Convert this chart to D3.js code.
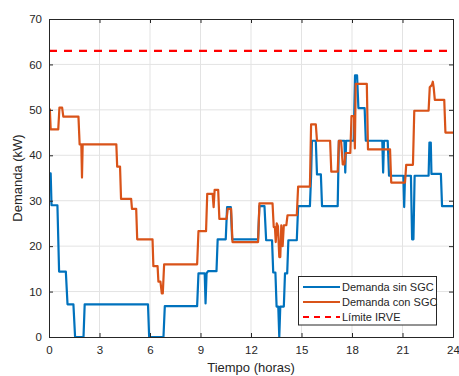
<!DOCTYPE html>
<html>
<head>
<meta charset="utf-8">
<script src="https://cdn.jsdelivr.net/npm/d3@7"></script>
<style>
  html, body { margin: 0; padding: 0; background: #fff; }
  svg { display: block; font-family: "Liberation Sans", Arial, Helvetica, sans-serif; }
</style>
</head>
<body>
<svg id="chart" width="459" height="376"></svg>
<script>
// ---- Data ----
const xTicks = [0, 3, 6, 9, 12, 15, 18, 21, 24];
const yTicks = [0, 10, 20, 30, 40, 50, 60, 70];
const seriesNames = ["Demanda sin SGC", "Demanda con SGC", "Límite IRVE"];
const limiteIRVE = 63;

const horaSin = [0, 0.1, 0.15, 0.5, 0.6, 1.0, 1.1, 1.45, 1.55, 2.05, 2.12, 5.88, 5.95, 6.8, 6.88, 8.8, 8.88, 9.25, 9.3, 9.36, 9.45, 9.95, 10.02, 10.5, 10.58, 10.8, 10.88, 12.42, 12.5, 12.8, 12.9, 13.25, 13.32, 13.45, 13.52, 13.62, 13.68, 13.74, 13.95, 14.02, 14.15, 14.22, 14.72, 14.8, 15.5, 15.57, 15.62, 15.85, 15.92, 16.15, 16.22, 17.15, 17.22, 17.55, 17.6, 17.65, 18.1, 18.18, 18.3, 18.38, 18.75, 18.82, 19.8, 19.85, 19.9, 20.12, 20.2, 21.05, 21.1, 21.15, 21.5, 21.57, 21.65, 21.72, 22.55, 22.6, 22.68, 22.72, 23.28, 23.35, 24];
const demandaSin = [36, 36, 29, 29, 14.4, 14.4, 7.2, 7.2, 0, 0, 7.2, 7.2, 0, 0, 6.8, 6.8, 14, 14, 7.4, 14, 14.5, 14.5, 21.5, 21.5, 28.6, 28.6, 21.5, 21.5, 28.8, 28.8, 21.3, 21.3, 14.2, 14.2, 6.7, 6.7, 0, 6.7, 6.7, 14, 14, 21.3, 21.3, 28.8, 28.8, 35.5, 43.2, 43.2, 35.8, 35.8, 28.8, 28.8, 43.2, 43.2, 36.2, 43.2, 43.2, 57.6, 57.6, 50.4, 50.4, 43.2, 43.2, 36.2, 43.2, 43.2, 35.5, 35.5, 28.6, 35.5, 35.5, 21.5, 21.5, 35.5, 35.5, 42.8, 42.8, 35.9, 35.9, 28.8, 28.8];

const horaCon = [0, 0.05, 0.1, 0.55, 0.62, 0.78, 0.85, 1.75, 1.82, 1.92, 1.96, 2.0, 4.0, 4.05, 4.22, 4.28, 4.88, 4.93, 5.18, 5.24, 6.15, 6.2, 6.45, 6.5, 6.62, 6.7, 6.76, 6.84, 8.8, 8.88, 9.33, 9.4, 9.72, 9.78, 9.84, 10.05, 10.12, 10.55, 10.62, 10.82, 10.9, 12.42, 12.5, 13.28, 13.35, 13.42, 13.47, 13.53, 13.6, 13.68, 13.74, 13.8, 13.88, 13.95, 14.1, 14.17, 14.72, 14.8, 15.5, 15.57, 15.85, 15.92, 16.7, 16.77, 17.15, 17.22, 17.35, 17.45, 17.55, 17.62, 17.9, 17.97, 18.12, 18.17, 18.22, 18.88, 18.95, 20.26, 20.33, 21.15, 21.22, 21.62, 21.7, 22.55, 22.62, 22.75, 22.8, 22.85, 22.92, 23.48, 23.55, 24];
const demandaCon = [50.1, 50.1, 45.7, 45.7, 50.5, 50.5, 48.5, 48.5, 42.4, 42.4, 35.1, 42.4, 42.4, 37.5, 37.5, 30.4, 30.4, 28.2, 28.2, 21.5, 21.5, 15.6, 15.6, 12.2, 12.2, 9.6, 9.6, 16.0, 16.0, 23.3, 23.3, 31.5, 31.5, 28.6, 32.4, 32.4, 26.0, 26.0, 28.2, 28.2, 20.9, 20.9, 29.4, 29.4, 24.2, 24.2, 20.9, 25, 24.4, 17.6, 17.6, 24.6, 20, 24.6, 24.6, 26.8, 26.8, 33.1, 33.1, 46.8, 46.8, 43.2, 43.2, 36.4, 36.4, 43.2, 43.2, 38, 38, 40.5, 40.5, 48.6, 48.6, 41.5, 55.7, 55.7, 41.3, 41.3, 34.0, 34.0, 37.9, 37.9, 49.8, 49.8, 55, 55.5, 56.2, 55, 52.2, 52.2, 45, 45];

// ---- Layout ----
const svg = d3.select("#chart");
const mLeft = 49, mRight = 453, mTop = 19, mBottom = 337;
const x = d3.scaleLinear().domain([0, 24]).range([mLeft, mRight]);
const y = d3.scaleLinear().domain([0, 70]).range([mBottom, mTop]);
const axisColor = "#262626";
const gridColor = "#e3e3e3";

svg.append("rect").attr("x", mLeft).attr("y", mTop).attr("width", mRight - mLeft).attr("height", mBottom - mTop).attr("fill", "#fff");

// grid
const grid = svg.append("g");
grid.selectAll(".gx").data(xTicks.slice(1, -1)).enter().append("line")
  .attr("x1", d => x(d)).attr("x2", d => x(d)).attr("y1", mTop).attr("y2", mBottom)
  .attr("stroke", gridColor).attr("stroke-width", 1);
grid.selectAll(".gy").data(yTicks.slice(1, -1)).enter().append("line")
  .attr("y1", d => y(d)).attr("y2", d => y(d)).attr("x1", mLeft).attr("x2", mRight)
  .attr("stroke", gridColor).attr("stroke-width", 1);

// clip
svg.append("clipPath").attr("id", "clip").append("rect")
  .attr("x", mLeft).attr("y", mTop - 1).attr("width", mRight - mLeft).attr("height", mBottom - mTop + 2);

const plot = svg.append("g").attr("clip-path", "url(#clip)");
const line = d3.line().x(d => x(d[0])).y(d => y(d[1]));

const dataSin = horaSin.map((h, i) => [h, demandaSin[i]]);
const dataCon = horaCon.map((h, i) => [h, demandaCon[i]]);

plot.append("path").datum(dataSin).attr("d", line)
  .attr("fill", "none").attr("stroke", "#0072BD").attr("stroke-width", 2.2).attr("stroke-linejoin", "round");
plot.append("path").datum(dataCon).attr("d", line)
  .attr("fill", "none").attr("stroke", "#D95319").attr("stroke-width", 2.2).attr("stroke-linejoin", "round");
plot.append("path").datum([[0, limiteIRVE], [24, limiteIRVE]]).attr("d", line)
  .attr("fill", "none").attr("stroke", "#FF0000").attr("stroke-width", 2.2).attr("stroke-dasharray", "8,7");

// axes (box)
const axX = svg.append("g").attr("transform", `translate(0,${mBottom})`)
  .call(d3.axisBottom(x).tickValues(xTicks).tickSize(-4).tickPadding(9).tickFormat(d3.format("d")));
const axXt = svg.append("g").attr("transform", `translate(0,${mTop})`)
  .call(d3.axisTop(x).tickValues(xTicks).tickSize(-4).tickFormat(""));
const axY = svg.append("g").attr("transform", `translate(${mLeft},0)`)
  .call(d3.axisLeft(y).tickValues(yTicks).tickSize(-4).tickPadding(7).tickFormat(d3.format("d")));
const axYr = svg.append("g").attr("transform", `translate(${mRight},0)`)
  .call(d3.axisRight(y).tickValues(yTicks).tickSize(-4).tickFormat(""));
[axX, axXt, axY, axYr].forEach(g => {
  g.selectAll("path").attr("stroke", axisColor).attr("stroke-width", 1);
  g.selectAll("line").attr("stroke", axisColor).attr("stroke-width", 1);
  g.selectAll("text").attr("fill", axisColor).style("font-size", "11.5px").style("font-family", "Liberation Sans, Arial, sans-serif");
});

// axis labels
svg.append("text").attr("x", (mLeft + mRight) / 2).attr("y", 372).attr("text-anchor", "middle")
  .attr("fill", axisColor).style("font-size", "13px").text("Tiempo (horas)");
svg.append("text").attr("transform", `translate(22,${(mTop + mBottom) / 2}) rotate(-90)`)
  .attr("text-anchor", "middle").attr("fill", axisColor).style("font-size", "13px").text("Demanda (kW)");

// legend
const lg = svg.append("g");
lg.append("rect").attr("x", 298.5).attr("y", 276.5).attr("width", 138).attr("height", 48.5)
  .attr("fill", "#fff").attr("stroke", axisColor).attr("stroke-width", 1);
const legendStyles = [
  { color: "#0072BD", dash: null },
  { color: "#D95319", dash: null },
  { color: "#FF0000", dash: "6,5" }
];
seriesNames.forEach((name, i) => {
  const yy = 287 + i * 15;
  const l = lg.append("line").attr("x1", 303).attr("x2", 340).attr("y1", yy).attr("y2", yy)
    .attr("stroke", legendStyles[i].color).attr("stroke-width", 2.2);
  if (legendStyles[i].dash) l.attr("stroke-dasharray", legendStyles[i].dash);
  lg.append("text").attr("x", 342).attr("y", yy + 4).attr("fill", axisColor)
    .style("font-size", "11px").text(name);
});
</script>
</body>
</html>
